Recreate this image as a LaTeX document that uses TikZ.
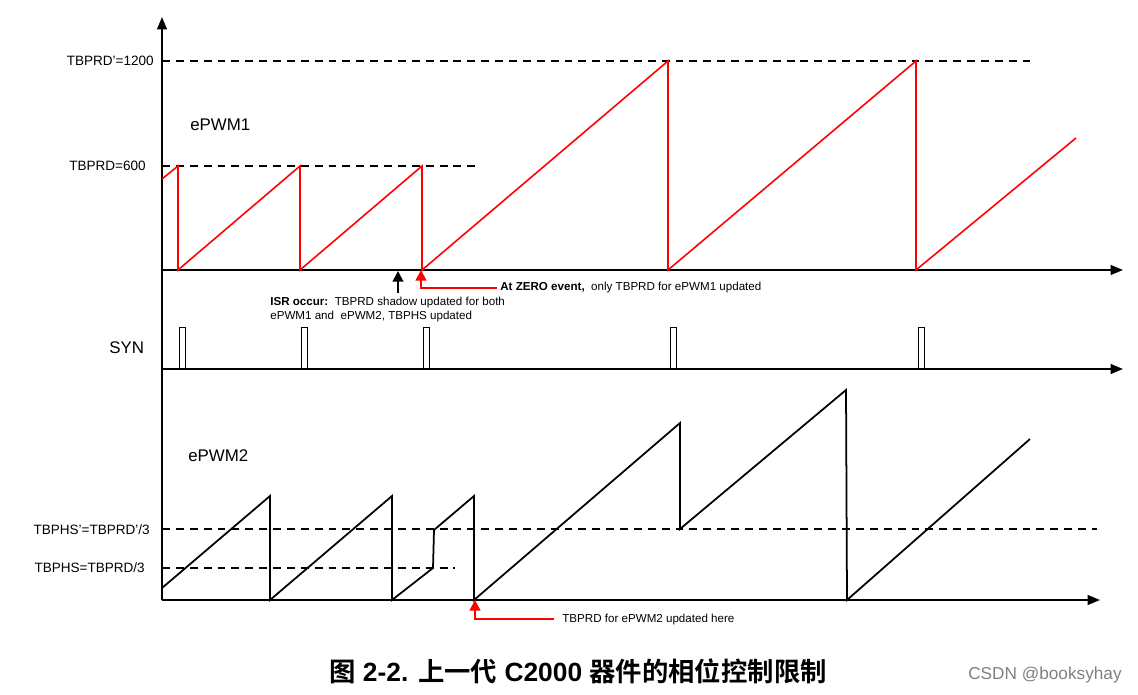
\documentclass[tikz,border=0pt]{standalone}
\usepackage{fontspec}
\setmainfont{Liberation Sans}
\newfontfamily\cjk[BoldFont={Noto Sans CJK SC Bold}]{Noto Sans CJK SC}
\usetikzlibrary{arrows.meta}

\tikzset{
  axis/.style={line width=1.1pt, ->},
  level/.style={line width=1.1pt, dash pattern=on 4.5pt off 3.4pt},
  wavea/.style={red, line width=0.9pt},
  waveb/.style={black, line width=1pt},
  synpulse/.style={draw, line width=0.5pt},
  ticklabel/.style={anchor=east, inner sep=0pt, font=\fontsize{7.7}{9}\selectfont},
  chname/.style={anchor=west, inner sep=0pt, font=\fontsize{9.6}{11}\selectfont},
  note/.style={anchor=base west, inner sep=0pt, font=\fontsize{6.6}{8}\selectfont},
  marker/.style={line width=1.3pt, >={Triangle[length=6pt,width=6pt]}}
}

\begin{document}
\begin{tikzpicture}[x=0.02cm, y=-0.02cm, >={Triangle[length=7pt,width=5.5pt]}, line join=miter]
	\useasboundingbox (0,0) rectangle (1138,695);
	% 1. 参考电平虚线与标号
	\draw[level] (162,61) -- (1030,61);
	\draw[level] (162,166) -- (475,166);
	\draw[level] (162,529) -- (1097,529);
	\draw[level] (162,568) -- (455,568);
	\node[ticklabel] (prdb) at (154,61) {TBPRD'=1200};
	\node[ticklabel] (prda) at (146,166) {TBPRD=600};
	\node[ticklabel] (phsb) at (150,530) {TBPHS'=TBPRD'/3};
	\node[ticklabel] (phsa) at (145,568) {TBPHS=TBPRD/3};
	
	% 2. 坐标轴
	\draw[axis] (162,600) -- (162,17);
	\draw[axis] (162,270) -- (1123,270);
	\draw[axis] (162,369) -- (1123,369);
	\draw[axis] (162,600) -- (1100,600);
	\node[chname] (pwma) at (190,125) {ePWM1};
	\node[chname] (syn) at (109,348) {SYN};
	\node[chname] (pwmb) at (188,456) {ePWM2};
	
	% 3. ePWM1 计数器 (红色锯齿)
	\draw[wavea] (162,179) -- (178,166) -- (178,270) -- (300,166) -- (300,270)
		-- (422,166) -- (422,270) -- (668,61) -- (668,270) -- (916,61) -- (916,270)
		-- (1076,138);
	
	% 4. SYN 脉冲
	\foreach \px in {179,301,423,670,918}
		\draw[synpulse] (\px,369) rectangle (\px+6,327);
	
	% 5. ePWM2 计数器 (相位装载)
	\draw[waveb] (162,588) -- (270,496) -- (270,600) -- (392,496) -- (392,600)
		-- (433,568) -- (434,530) -- (474,496) -- (474,600) -- (680,423) -- (680,529)
		-- (846,390) -- (847,600) -- (1030,439);
	
	% 6. 事件箭头与说明
	\coordinate (isrtail) at (398,293);
	\coordinate (isrtip) at (398,271);
	\draw[marker, line width=1.1pt, ->] (isrtail) -- (isrtip);
	\node[note] (isra) at (270,306) {\textbf{ISR occur:}\ \ TBPRD shadow updated for both};
	\node[note] (isrb) at (270,320) {ePWM1 and\ \ ePWM2, TBPHS updated};
	
	\coordinate (zeroa) at (421,270);
	\coordinate (zeroabend) at (421,288);
	\coordinate (zeroaend) at (497,288);
	\draw[marker, red, <-] (zeroa) -- (zeroabend) -- (zeroaend);
	\node[note] (zeronote) at (500,291) {\textbf{At ZERO event,}\ \ only TBPRD for ePWM1 updated};
	
	\coordinate (zerob) at (475,600);
	\coordinate (zerobbend) at (475,619);
	\coordinate (zerobend) at (554,619);
	\draw[marker, red, <-] (zerob) -- (zerobbend) -- (zerobend);
	\node[note] (prdnote) at (562,622) {TBPRD for ePWM2 updated here};
	
	% 7. 图题
	\node[font=\fontsize{15}{18}\selectfont\bfseries, inner sep=0pt] (caption) at (578,671)
		{{\cjk 图} 2-2. {\cjk 上一代} C2000 {\cjk 器件的相位控制限制}};
	\node[font=\fontsize{9.8}{12}\selectfont, text=gray, inner sep=0pt, anchor=east] (mark) at (1122,675) {CSDN @booksyhay};
\end{tikzpicture}
\end{document}
